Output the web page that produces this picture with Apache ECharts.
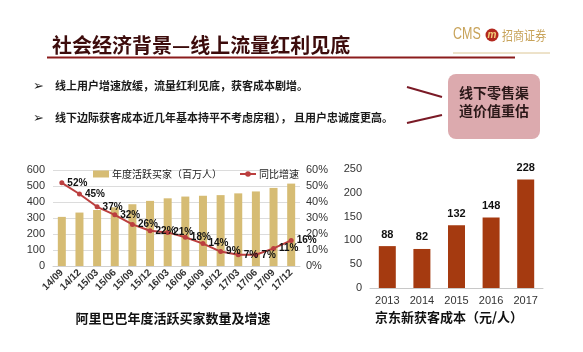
<!DOCTYPE html>
<html><head><meta charset="utf-8">
<script src="https://cdn.jsdelivr.net/npm/echarts@6/dist/echarts.min.js"></script>
<style>html,body{margin:0;padding:0;background:#fff}#c{width:583px;height:352px}</style>
</head><body><div id="c"></div>
<script>
const aliQuarters = ['14/09','14/12','15/03','15/06','15/09','15/12','16/03','16/06','16/09','16/12','17/03','17/06','17/09','17/12'];
const aliBuyers = [307,334,350,367,386,407,423,434,439,443,454,466,488,515];
const aliGrowth = [52,45,37,32,26,22,21,18,14,9,7,7,11,16];
const aliLeftTicks = {min:0, max:600, interval:100};
const aliRightTicks = {min:0, max:60, interval:10};
const jdYears = ['2013','2014','2015','2016','2017'];
const jdCost = [88,82,132,148,228];
const jdTicks = {min:0, max:250, interval:50};

const FF = "'Liberation Sans','Noto Sans CJK SC',sans-serif";
const CJK = "'Noto Sans CJK SC',sans-serif";
const chart = echarts.init(document.getElementById('c'));
chart.setOption({
  animation:false,
  backgroundColor:'#ffffff',
  textStyle:{fontFamily:FF},
  legend:{
    left:88, top:164, itemGap:17, itemWidth:16, itemHeight:7,
    textStyle:{fontSize:10, color:'#222', fontFamily:CJK, padding:[0,0,0,-2]},
    data:[{name:'年度活跃买家（百万人）', icon:'rect'},{name:'同比增速'}]
  },
  grid:[
    {left:53, right:283, top:170, bottom:86},
    {left:370, right:40, top:169, bottom:64}
  ],
  xAxis:[
    {gridIndex:0, type:'category', data:aliQuarters,
     axisLine:{lineStyle:{color:'#d0d0d0'}}, axisTick:{show:false},
     axisLabel:{rotate:45, fontSize:10, fontWeight:'bold', color:'#333', margin:5, interval:0}},
    {gridIndex:1, type:'category', data:jdYears,
     axisLine:{lineStyle:{color:'#c8c8c8'}}, axisTick:{show:false},
     axisLabel:{fontSize:11, color:'#333', margin:7}}
  ],
  yAxis:[
    {gridIndex:0, type:'value', min:aliLeftTicks.min, max:aliLeftTicks.max, interval:aliLeftTicks.interval,
     axisLine:{show:false}, axisTick:{show:false},
     axisLabel:{fontSize:11, color:'#333', margin:8},
     splitLine:{lineStyle:{color:'#dcdcdc'}}},
    {gridIndex:0, type:'value', position:'right', min:aliRightTicks.min, max:aliRightTicks.max, interval:aliRightTicks.interval,
     axisLine:{show:false}, axisTick:{show:false},
     axisLabel:{fontSize:11, color:'#333', margin:6, formatter:'{value}%'},
     splitLine:{show:false}},
    {gridIndex:1, type:'value', min:jdTicks.min, max:jdTicks.max, interval:jdTicks.interval,
     axisLine:{show:false}, axisTick:{show:false},
     axisLabel:{fontSize:11, color:'#333', margin:8},
     splitLine:{show:false}}
  ],
  series:[
    {name:'年度活跃买家（百万人）', type:'bar', xAxisIndex:0, yAxisIndex:0, data:aliBuyers,
     barWidth:8, itemStyle:{color:'#d6bc74'}},
    {name:'同比增速', type:'line', xAxisIndex:0, yAxisIndex:1, data:aliGrowth,
     symbol:'circle', symbolSize:5, lineStyle:{color:'#bb3f3f', width:2}, itemStyle:{color:'#bb3f3f'},
     label:{show:true, position:'right', distance:3, formatter:'{c}%', fontSize:10, fontWeight:'bold', color:'#111'}},
    {name:'京东新获客成本', type:'bar', xAxisIndex:1, yAxisIndex:2, data:jdCost,
     barWidth:17, itemStyle:{color:'#a53a10'},
     label:{show:true, position:'top', distance:6, fontSize:11, fontWeight:'bold', color:'#111'}}
  ],
  graphic:[
    {type:'text', left:52, top:35, style:{text:'社会经济背景—线上流量红利见底', font:'bold 20px '+CJK, fill:'#3d0c0c'}},
    {type:'line', shape:{x1:47,y1:57.5,x2:515,y2:57.5}, style:{stroke:'#8b1c1c', lineWidth:2}},
    {type:'line', shape:{x1:453,y1:53,x2:550,y2:53}, style:{stroke:'#dcc695', lineWidth:1}},
    {type:'text', x:453, y:35, scaleX:0.78, style:{text:'CMS', font:'16px '+FF, fill:'#c8a35a', verticalAlign:'middle'}},
    {type:'circle', shape:{cx:492,cy:35,r:6.5}, style:{fill:'#b3281e'}},
    {type:'text', x:492, y:35, style:{text:'m', font:'bold italic 10px '+FF, fill:'#f4d07a', align:'center', verticalAlign:'middle'}},
    {type:'text', x:502, y:35, scaleX:0.85, style:{text:'招商证券', font:'13px '+CJK, fill:'#c8a35a', verticalAlign:'middle'}},
    {type:'text', x:33, y:87, style:{text:'➢', font:'13px DejaVu Sans', fill:'#222', verticalAlign:'middle'}},
    {type:'text', x:33, y:119, style:{text:'➢', font:'13px DejaVu Sans', fill:'#222', verticalAlign:'middle'}},
    {type:'text', x:55, y:86, style:{text:'线上用户增速放缓，流量红利见底，获客成本剧增。', font:'bold 11px '+CJK, fill:'#1a1a1a', verticalAlign:'middle'}},
    {type:'text', x:55, y:118, style:{text:'线下边际获客成本近几年基本持平不考虑房租）， 且用户忠诚度更高。', font:'bold 11px '+CJK, fill:'#1a1a1a', verticalAlign:'middle'}},
    {type:'line', shape:{x1:407,y1:87,x2:442,y2:97}, style:{stroke:'#7a1a26', lineWidth:2}},
    {type:'line', shape:{x1:407,y1:123,x2:442,y2:115}, style:{stroke:'#7a1a26', lineWidth:2}},
    {type:'rect', shape:{x:448,y:74,width:92,height:65,r:8}, style:{fill:'#dcaaae'}},
    {type:'text', x:494, y:102, style:{text:'线下零售渠\n道价值重估', font:'bold 14px '+CJK, fill:'#2a1818', align:'center', verticalAlign:'middle', lineHeight:18}},
    {type:'text', x:173, y:318, style:{text:'阿里巴巴年度活跃买家数量及增速', font:'bold 13px '+CJK, fill:'#111', align:'center', verticalAlign:'middle'}},
    {type:'text', x:449, y:317, style:{text:'京东新获客成本（元/人）', font:'bold 13px '+CJK, fill:'#111', align:'center', verticalAlign:'middle'}}
  ]
});
</script></body></html>
